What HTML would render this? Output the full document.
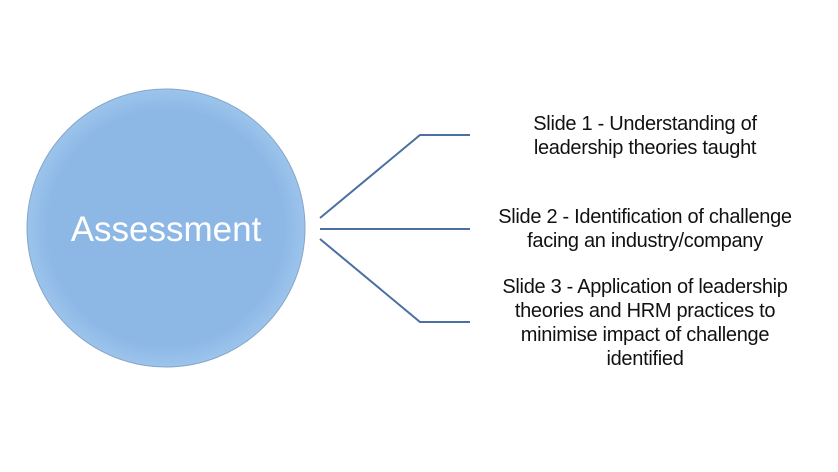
<!DOCTYPE html>
<html><head><style>
body{margin:0;width:838px;height:472px;background:#fff;position:relative;overflow:hidden;font-family:"Liberation Sans",sans-serif}
.t{position:absolute;left:445px;width:400px;text-align:center;font-size:20px;line-height:24px;color:#111;letter-spacing:-0.3px}
</style></head><body>
<svg width="838" height="472" style="position:absolute;left:0;top:0">
<defs><radialGradient id="g" cx="50%" cy="50%" r="50%">
<stop offset="0.85" stop-color="#8db8e6"/><stop offset="1" stop-color="#9cc4ec"/></radialGradient></defs>
<circle cx="166" cy="228" r="139" fill="url(#g)" stroke="#86a6c8" stroke-width="1"/>
<text x="166" y="241" text-anchor="middle" fill="#fff" font-size="35" font-family="Liberation Sans, sans-serif">Assessment</text>
<g stroke="#4a6fa0" stroke-width="2" fill="none">
<polyline points="320,218 420,135 470,135"/>
<line x1="320" y1="229" x2="470" y2="229"/>
<polyline points="320,239 420,322 470,322"/>
</g>
</svg>
<div class="t" style="top:112px">Slide 1 - Understanding of<br>leadership theories taught</div>
<div class="t" style="top:205px">Slide 2 - Identification of challenge<br>facing an industry/company</div>
<div class="t" style="top:275px">Slide 3 - Application of leadership<br>theories and HRM practices to<br>minimise impact of challenge<br>identified</div>
</body></html>
